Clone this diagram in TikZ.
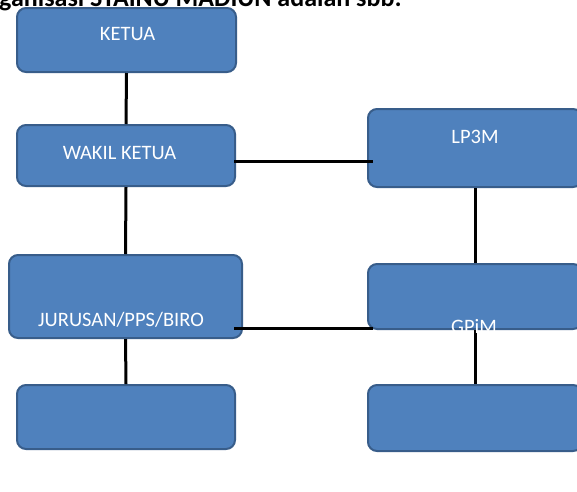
\documentclass[tikz,border=0pt]{standalone}
\usepackage{fontspec}
\setmainfont{Carlito}
\usepackage{xcolor}
\definecolor{boxblue}{RGB}{79, 129, 189}
\definecolor{boxedge}{RGB}{56, 93, 138}
\usepackage{tikz}
\usetikzlibrary{positioning, calc}

\begin{document}
\begin{tikzpicture}[x=1pt, y=-1pt,
    orgbox/.style={rectangle, rounded corners=9pt, fill=boxblue, draw=boxedge,
        line width=2pt, inner sep=0pt},
    link/.style={line width=3pt, color=black},
    lbl/.style={anchor=base, text=white, inner sep=0pt,
        font=\fontsize{20.5}{24}\selectfont}]
    % Page frame (cut as in the scan)
    \useasboundingbox (0,0) rectangle (577,491);
    \clip (0,0) rectangle (577,491);
    \fill[white] (0,0) rectangle (577,491);

    % Heading line, only its lower part is visible
    \node[anchor=base west, inner sep=0pt, font=\fontsize{26}{31}\selectfont\bfseries] (judul)
        at (-1, 6.8) {ganisasi STAINU MADIUN adalah sbb:};

    % Boxes, left column
    \node[orgbox, minimum width=219pt, minimum height=64pt] (ketua) at (126.5, 40) {};
    \node[orgbox, minimum width=218pt, minimum height=61pt] (wakil) at (126, 155.5) {};
    \node[orgbox, minimum width=233pt, minimum height=83pt] (jurusan) at (125.5, 296.5) {};
    \node[orgbox, minimum width=218pt, minimum height=64pt] (kirikosong) at (126, 417) {};

    % Boxes, right column (running off the page)
    \node[orgbox, minimum width=214pt, minimum height=78pt] (lp3m) at (475, 148) {};
    \node[orgbox, minimum width=214pt, minimum height=65pt] (gpim) at (475, 296.5) {};
    \node[orgbox, minimum width=214pt, minimum height=66pt] (kanankosong) at (475, 418) {};

    % Vertical links
    \draw[link] (ketua.south) -- (wakil.north);
    \draw[link] (wakil.south) -- (jurusan.north);
    \draw[link] (jurusan.south) -- (kirikosong.north);
    \draw[link] (lp3m.south) -- (gpim.north);
    \draw[link] (gpim.south) -- (kanankosong.north);

    % Horizontal links
    \coordinate (wk) at ([shift={(-2pt,-6.2pt)}]wakil.east);
    \coordinate (lp) at ([xshift=6pt]lp3m.west);
    \draw[link] (wk) -- (wk -| lp);
    \coordinate (jr) at ([shift={(-9pt,-32.2pt)}]jurusan.east);
    \coordinate (gp) at ([xshift=6pt]gpim.west);
    \draw[link] (jr) -- (jr -| gp);

    % Labels
    \node[lbl] (tketua) at (127.5, 40.7) {KETUA};
    \node[lbl] (twakil) at (119.5, 159) {WAKIL KETUA};
    \node[lbl] (tlp3m) at (475, 143.3) {LP3M};
    \node[lbl] (tjurusan) at (121, 326) {JURUSAN/PPS/BIRO};
    \node[lbl] (tgpim) at (474, 333) {GPiM};

\end{tikzpicture}
\end{document}
